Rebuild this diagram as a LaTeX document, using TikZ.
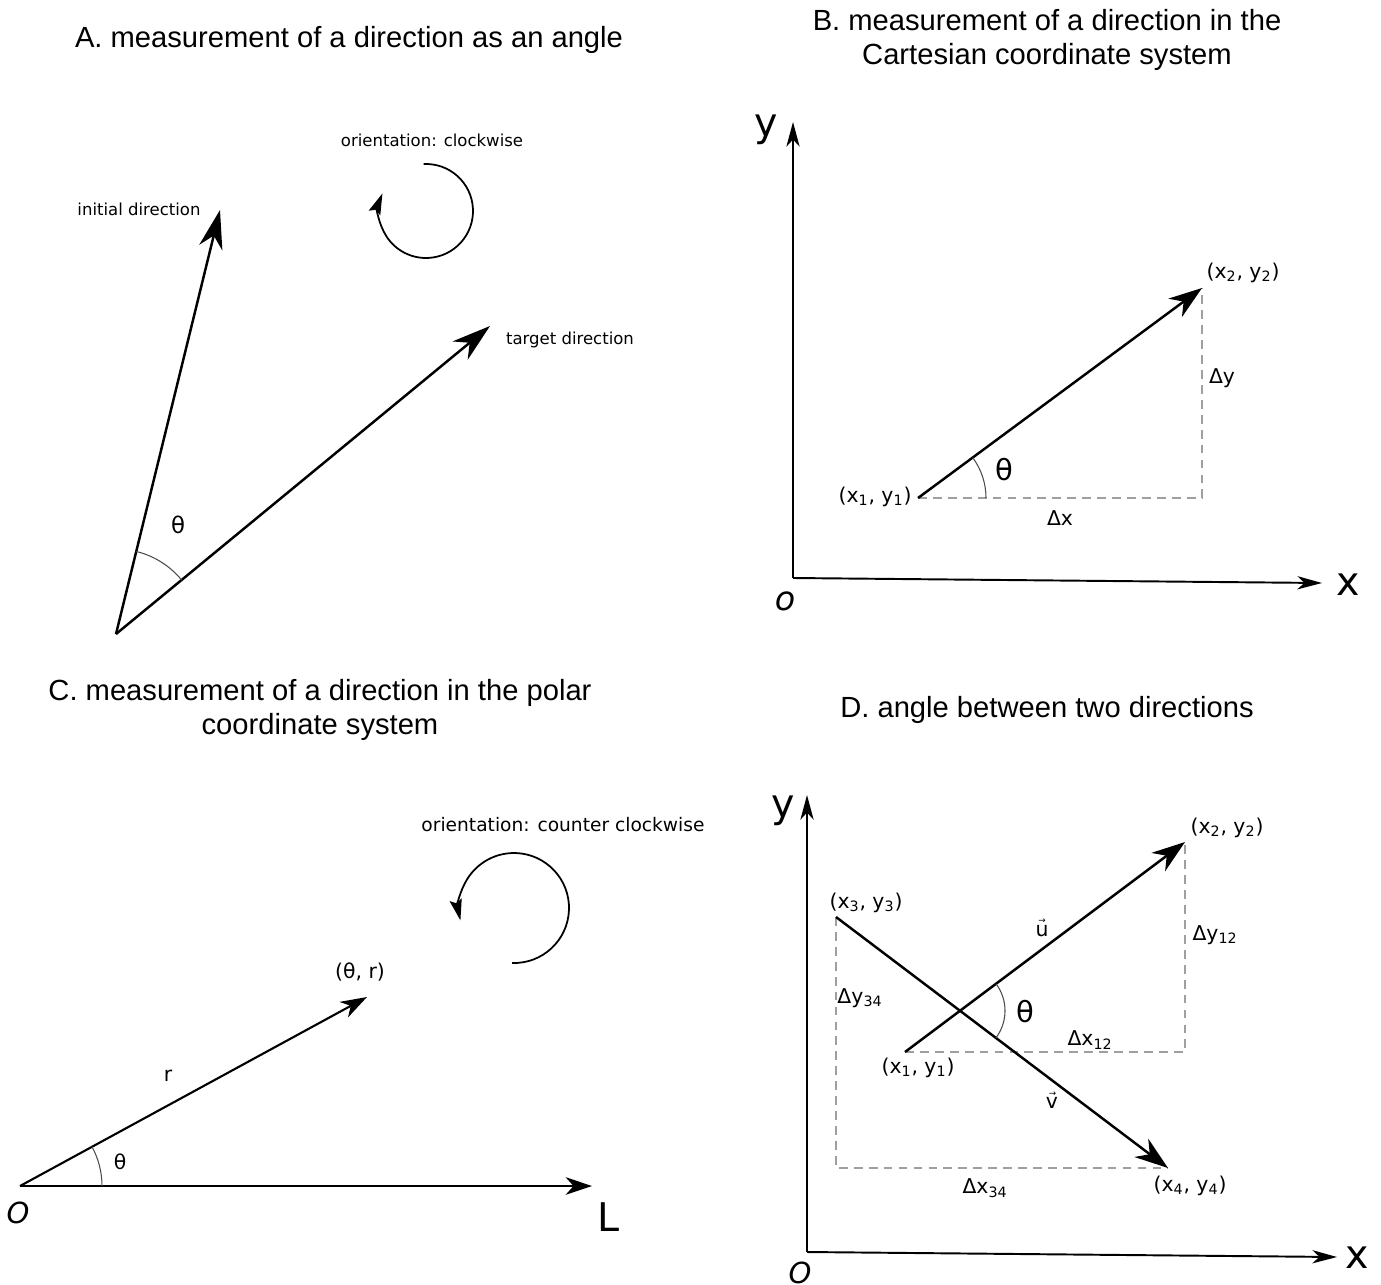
\documentclass[tikz,border=0pt]{standalone}
\usepackage{fontspec}
\setmainfont{DejaVu Sans}
\newfontfamily\titlefont{Liberation Sans}
\usetikzlibrary{arrows.meta,calc}
\newcommand{\vecarrow}[1]{\makebox[0pt][l]{\hspace{1.6pt}\raisebox{7.2pt}{\fontsize{5}{5}\selectfont →}}#1}
\begin{document}
\begin{tikzpicture}[x=0.02cm,y=-0.02cm,
  title/.style={font=\titlefont\fontsize{16.6}{19.8}\selectfont, align=center, inner sep=0pt},
  lblA/.style={font=\fontsize{9.4}{11}\selectfont, inner sep=0pt},
  lblC/.style={font=\fontsize{10.6}{12}\selectfont, inner sep=0pt},
  crd/.style={font=\fontsize{11.6}{14}\selectfont, inner sep=0pt},
  bigl/.style={font=\fontsize{22.5}{26}\selectfont, inner sep=0pt},
  orig/.style={font=\fontsize{16.5}{20}\selectfont\itshape, inner sep=0pt},
  thbig/.style={font=\fontsize{16.5}{20}\selectfont, inner sep=0pt},
  thsm/.style={font=\fontsize{13}{16}\selectfont, inner sep=0pt},
  vecA/.style={line width=1.4pt, -{Stealth[length=22pt,width=13.5pt,inset=7pt]}},
  vecB/.style={line width=1.4pt, -{Stealth[length=19pt,width=13pt,inset=6pt]}},
  vecC/.style={line width=1.2pt, -{Stealth[length=15pt,width=10pt,inset=4.5pt]}},
  axis/.style={line width=1.1pt, -{Stealth[length=14pt,width=7.5pt,inset=4pt]}},
  dashln/.style={gray!75, line width=0.8pt, dash pattern=on 5pt off 3.5pt},
  anglearc/.style={black!70, line width=0.6pt},
  rot/.style={line width=1pt, -{Stealth[length=12pt,width=7pt,inset=2pt]}}]
\useasboundingbox (0,0) rectangle (1381,1284);
\fill[white] (0,0) rectangle (1381,1284);

% ---------- Titles
\node[title] (tA) at (349,40) {A. measurement of a direction as an angle};
\node[title] (tB) at (1047,40) {B. measurement of a direction in the\\Cartesian coordinate system};
\node[title] (tC) at (320,710) {C. measurement of a direction in the polar\\coordinate system};
\node[title] (tD) at (1047,710) {D. angle between two directions};

% ---------- Panel A
\coordinate (Ao) at (116,634);
\coordinate (Ai) at (220,210);
\coordinate (At) at (490,326);
\draw[vecA] (Ao) -- (Ai);
\draw[vecA] (Ao) -- (At);
\draw[anglearc] (Ao) ++(-76.2:85) arc[start angle=-76.2, end angle=-39.5, radius=85];
\node[thsm] (thA) at (178,525) {θ};
\node[lblA] (lInit) at (139,209) {initial direction};
\node[lblA] (lOrA) at (432,140) {orientation: clockwise};
\node[lblA] (lTgt) at (570,340) {target direction};
\coordinate (cwc) at (426,211);
\draw[rot] (cwc) ++(-93:47) arc[start angle=-93, end angle=202, radius=47];

% ---------- Panel B
\coordinate (Bo) at (793,578);
\coordinate (By) at (793,122);
\coordinate (Bx) at (1322,583);
\draw[axis] (Bo) -- (By);
\draw[axis] (Bo) -- (Bx);
\node[bigl] (Bly) at (766,130) {y};
\node[bigl] (Blx) at (1348,585) {x};
\node[orig, font=\fontsize{19}{22}\selectfont\itshape] (Blo) at (785,601) {o};
\coordinate (B1) at (918,498);
\coordinate (B2) at (1202,288);
\draw[dashln] (B1) -- (B2 |- B1) -- (B2);
\draw[vecB] (B1) -- (B2);
\draw[anglearc] (B1) ++(-36.5:68) arc[start angle=-36.5, end angle=0, radius=68];
\node[crd] (Bp1) at (875,497) {(x\textsubscript{1}, y\textsubscript{1})};
\node[crd] (Bp2) at (1243,273) {(x\textsubscript{2}, y\textsubscript{2})};
\node[crd] (Bdy) at (1222,378) {Δy};
\node[crd] (Bdx) at (1060,518) {Δx};
\node[thbig] (Bth) at (1004,470) {θ};

% ---------- Panel C
\coordinate (Co) at (20,1186);
\coordinate (CL) at (592,1186);
\coordinate (Cp) at (367,997);
\draw[vecC] (Co) -- (CL);
\draw[vecC] (Co) -- (Cp);
\draw[anglearc] (Co) ++(-28.6:82) arc[start angle=-28.6, end angle=0, radius=82];
\node[crd] (Cr) at (168,1076) {r};
\node[crd] (Cth) at (120,1162) {θ};
\node[crd] (Cpl) at (360,972) {(θ, r)};
\node[orig] (CO) at (18,1213) {O};
\node[bigl] (CLl) at (609,1217) {L};
\node[lblC] (lOrC) at (563,825) {orientation: counter clockwise};
\coordinate (ccwc) at (514,908);
\draw[rot] (ccwc) ++(92:55) arc[start angle=92, end angle=-193, radius=55];

% ---------- Panel D
\coordinate (Do) at (807,1252);
\coordinate (Dy) at (807,795);
\coordinate (Dx) at (1337,1257);
\draw[axis] (Do) -- (Dy);
\draw[axis] (Do) -- (Dx);
\node[bigl] (Dly) at (783,811) {y};
\node[bigl] (Dlx) at (1357,1258) {x};
\node[orig] (DO) at (800,1273) {O};
\coordinate (D1) at (905,1052);
\coordinate (D2) at (1185,842);
\coordinate (D3) at (836,917);
\coordinate (D4) at (1168,1168);
\draw[dashln] (D1) -- (D2 |- D1) -- (D2);
\draw[dashln] (D3) -- (D3 |- D4) -- (D4);
\draw[vecB] (D1) -- (D2);
\draw[vecB] (D3) -- (D4);
\coordinate (Di) at (intersection of D1--D2 and D3--D4);
\draw[anglearc] (Di) ++(-36.9:45) arc[start angle=-36.9, end angle=37.1, radius=45];
\node[crd] (Dp2) at (1227,828) {(x\textsubscript{2}, y\textsubscript{2})};
\node[crd] (Dp3) at (866,903) {(x\textsubscript{3}, y\textsubscript{3})};
\node[crd] (Ddy12) at (1215,935) {Δy\textsubscript{12}};
\node[crd] (Du) at (1042,928) {\vecarrow{u}};
\node[crd] (Ddy34) at (860,998) {Δy\textsubscript{34}};
\node[thbig] (Dth) at (1025,1012) {θ};
\node[crd] (Ddx12) at (1090,1040) {Δx\textsubscript{12}};
\node[crd] (Dp1) at (918,1068) {(x\textsubscript{1}, y\textsubscript{1})};
\node[crd] (Dv) at (1052,1100) {\vecarrow{v}};
\node[crd] (Ddx34) at (985,1188) {Δx\textsubscript{34}};
\node[crd] (Dp4) at (1190,1186) {(x\textsubscript{4}, y\textsubscript{4})};
\end{tikzpicture}
\end{document}
